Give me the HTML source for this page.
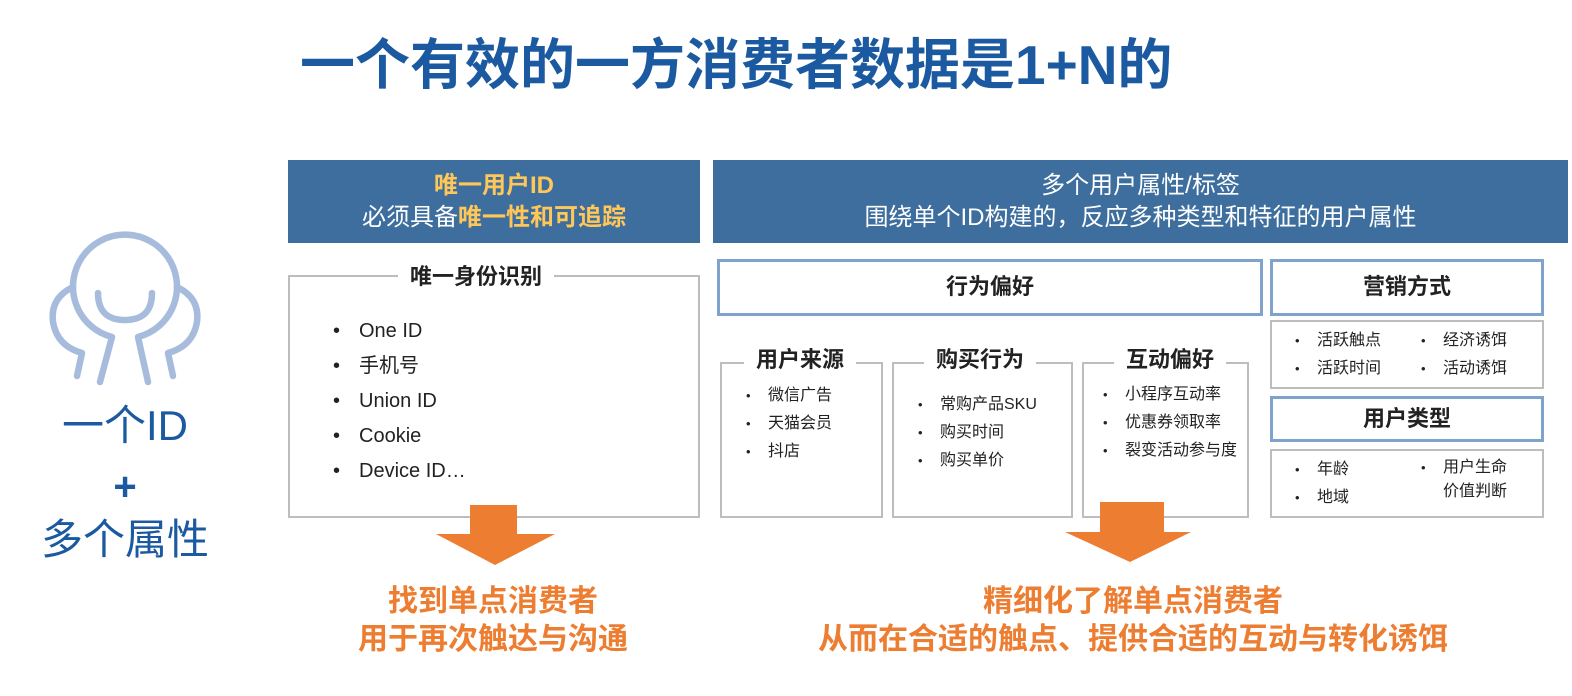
<!DOCTYPE html>
<html><head><meta charset="utf-8"><style>
*{margin:0;padding:0;box-sizing:border-box}
body{width:1572px;height:696px;background:#fff;position:relative;overflow:hidden;font-family:"Liberation Sans","Noto Sans CJK SC",sans-serif;color:#222}
.a{position:absolute}
.c{text-align:center}
.hdr{background:#3d6e9e;color:#fff;font-size:24px;line-height:32px;text-align:center;padding-top:10px}
.y{color:#ffc757;font-weight:bold}
.gb{border:2px solid #bdbdbd;background:#fff}
.bb{border:3px solid #7fa3cc;background:#fff;font-size:22px;font-weight:bold;text-align:center}
.lg{background:#fff;padding:0 12px;font-weight:bold;font-size:22px}
ul{list-style:none}
li{position:relative}
li:before{content:"•";position:absolute;left:-26px}
.s li{font-size:16px;line-height:28px}
.s li:before{left:-22px;font-size:13px}
.o{color:#ed7d31;font-weight:bold;font-size:30px;line-height:38px;text-align:center}
</style></head><body>
<div class="a" style="left:300px;top:30px;font-size:55px;font-weight:bold;color:#1b5aa0;white-space:nowrap;line-height:70px">一个有效的一方消费者数据是1+N的</div>

<svg class="a" style="left:0;top:0" width="260" height="420" fill="none" stroke="#a7bcdc" stroke-width="6.5" stroke-linecap="round" stroke-linejoin="round">
<path d="M100 382 L112 337 A52 52 0 1 1 138 337 L148 382"/>
<path d="M98 293 Q98 320 125 320 Q152 320 152 293"/>
<path d="M73 287 Q50 298 53 322 Q57 346 82 353 L77 376"/>
<path d="M177 287 Q200 298 197 322 Q193 346 168 353 L173 376"/>
</svg>
<div class="a c" style="left:30px;top:400px;width:190px;font-size:42px;color:#1b5aa0;line-height:52px">一个ID</div>
<div class="a c" style="left:30px;top:462px;width:190px;font-size:40px;color:#1b5aa0;font-weight:bold;line-height:50px">+</div>
<div class="a c" style="left:20px;top:514px;width:210px;font-size:42px;color:#1b5aa0;line-height:52px">多个属性</div>

<div class="a hdr" style="left:288px;top:160px;width:412px;height:83px"><span class="y">唯一用户ID</span><br>必须具备<span class="y">唯一性和可追踪</span></div>
<div class="a hdr" style="left:713px;top:160px;width:855px;height:83px">多个用户属性/标签<br>围绕单个ID构建的，反应多种类型和特征的用户属性</div>

<div class="a gb" style="left:288px;top:275px;width:412px;height:243px"></div>
<div class="a lg" style="left:398px;top:262px;line-height:30px">唯一身份识别</div>
<ul class="a" style="left:359px;top:314px;font-size:20px;line-height:35px"><li>One ID</li><li>手机号</li><li>Union ID</li><li>Cookie</li><li>Device ID…</li></ul>

<div class="a bb" style="left:717px;top:259px;width:546px;height:57px;line-height:50px">行为偏好</div>
<div class="a bb" style="left:1270px;top:259px;width:274px;height:57px;line-height:50px">营销方式</div>

<div class="a gb" style="left:720px;top:362px;width:163px;height:156px"></div>
<div class="a lg" style="left:744px;top:344px;line-height:32px">用户来源</div>
<ul class="a s" style="left:768px;top:382px"><li>微信广告</li><li>天猫会员</li><li>抖店</li></ul>

<div class="a gb" style="left:892px;top:362px;width:181px;height:156px"></div>
<div class="a lg" style="left:924px;top:344px;line-height:32px">购买行为</div>
<ul class="a s" style="left:940px;top:391px"><li>常购产品SKU</li><li>购买时间</li><li>购买单价</li></ul>

<div class="a gb" style="left:1082px;top:362px;width:167px;height:156px"></div>
<div class="a lg" style="left:1114px;top:344px;line-height:32px">互动偏好</div>
<ul class="a s" style="left:1125px;top:381px"><li>小程序互动率</li><li>优惠券领取率</li><li>裂变活动参与度</li></ul>

<div class="a gb" style="left:1270px;top:320px;width:274px;height:69px"></div>
<ul class="a s" style="left:1317px;top:327px"><li>活跃触点</li><li>活跃时间</li></ul>
<ul class="a s" style="left:1443px;top:327px"><li>经济诱饵</li><li>活动诱饵</li></ul>
<div class="a bb" style="left:1270px;top:396px;width:274px;height:46px;line-height:40px">用户类型</div>
<div class="a gb" style="left:1270px;top:449px;width:274px;height:69px"></div>
<ul class="a s" style="left:1317px;top:456px"><li>年龄</li><li>地域</li></ul>
<ul class="a s" style="left:1443px;top:456px;line-height:24px"><li style="line-height:24px">用户生命<br>价值判断</li></ul>

<svg class="a" style="left:430px;top:505px" width="135" height="62"><rect x="40" y="0" width="47" height="30" fill="#ed7d31"/><polygon points="6,29 125,29 65,60" fill="#ed7d31"/></svg>
<svg class="a" style="left:1060px;top:502px" width="135" height="62"><rect x="40" y="0" width="64" height="31" fill="#ed7d31"/><polygon points="5,30 131,30 70,60" fill="#ed7d31"/></svg>

<div class="a o" style="left:293px;top:583px;width:400px">找到单点消费者<br>用于再次触达与沟通</div>
<div class="a o" style="left:760px;top:583px;width:746px">精细化了解单点消费者<br>从而在合适的触点、提供合适的互动与转化诱饵</div>
</body></html>
